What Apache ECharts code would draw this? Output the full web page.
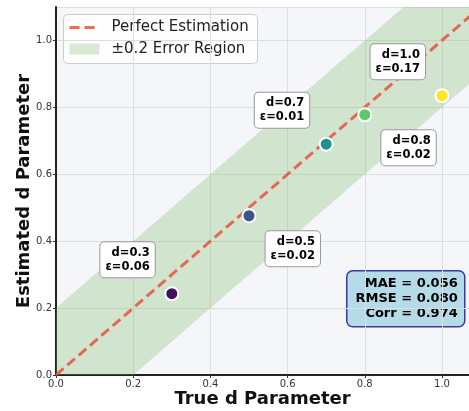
<!DOCTYPE html>
<html><head><meta charset="utf-8">
<script src="https://cdn.jsdelivr.net/npm/echarts@6/dist/echarts.min.js"></script>
<style>html,body{margin:0;padding:0;background:#fff}#c{width:469px;height:411px}</style>
</head><body><div id="c"></div>
<script>
const trueD = [0.3, 0.5, 0.7, 0.8, 1.0];
const estD = [0.243, 0.476, 0.69, 0.778, 0.835];
const errs = ['0.06', '0.02', '0.01', '0.02', '0.17'];
const pointColors = ['#440f5c', '#3b528b', '#21918c', '#5ec962', '#fde725'];
const lineX = [0, 1.2];
const bandHalf = 0.2;
const stats = ['MAE = 0.056', 'RMSE = 0.080', 'Corr = 0.974'];
const legendNames = ['Perfect Estimation', '±0.2 Error Region'];

const FONT = 'DejaVu Sans';
const chart = echarts.init(document.getElementById('c'));
const G = {left: 56, top: 7, right: 0, bottom: 36};

const axisCommon = {
  type: 'value', min: 0, interval: 0.2,
  axisLine: {show: true, lineStyle: {color: '#222', width: 2}},
  axisTick: {show: true, length: 3, lineStyle: {color: '#333'}},
  axisLabel: {fontFamily: FONT, fontSize: 10, color: '#333', margin: 4,
    formatter: v => v.toFixed(1), showMaxLabel: false},
  splitLine: {show: true, lineStyle: {color: '#dedede', width: 1}},
  nameLocation: 'middle', nameMoveOverlap: false,
  nameTextStyle: {fontFamily: FONT, fontSize: 18, fontWeight: 'bold', color: '#111'}
};

const scatterData = trueD.map((x, i) => ({
  value: [x, estD[i]],
  itemStyle: {color: pointColors[i]},
  label: {offset: i % 2 === 0 ? [-17, -34] : [71, 33]}
}));

// band polygon corners derived from the band line and half-width
const bandCorners = [
  [lineX[0], lineX[0] - bandHalf], [lineX[1], lineX[1] - bandHalf],
  [lineX[1], lineX[1] + bandHalf], [lineX[0], lineX[0] + bandHalf]
];

chart.setOption({
  animation: false,
  backgroundColor: '#fff',
  grid: Object.assign({show: true, backgroundColor: '#f5f6fa', borderWidth: 0,
    outerBoundsMode: 'none', containLabel: false}, G),
  xAxis: Object.assign({}, axisCommon, {max: 1.07, name: 'True d Parameter', nameGap: 15}),
  yAxis: Object.assign({}, axisCommon, {max: 1.1, name: 'Estimated d Parameter', nameGap: 23}),
  series: [
    {type: 'custom', silent: true, z: 1,
      data: [0],
      renderItem: (params, api) => {
        const cs = params.coordSys;
        return {type: 'polygon',
          shape: {points: bandCorners.map(p => api.coord(p))},
          style: {fill: 'rgba(113,186,90,0.27)'},
          clipPath: {type: 'rect', shape: {x: cs.x, y: cs.y, width: cs.width, height: cs.height}}};
      }},
    {type: 'line', symbol: 'none', silent: true, z: 3,
      data: lineX.map(x => [x, x]),
      lineStyle: {color: 'rgba(231,76,60,0.82)', width: 3, type: [10, 5]}},
    {type: 'scatter', z: 5, symbolSize: 13,
      itemStyle: {borderColor: '#fff', borderWidth: 2, opacity: 1},
      data: scatterData,
      label: {show: true, position: 'inside',
        formatter: p => 'd=' + trueD[p.dataIndex].toFixed(1) + '\nε=' + errs[p.dataIndex],
        fontFamily: FONT, fontSize: 11.5, fontWeight: 'bold', color: '#000', align: 'right',
        lineHeight: 14, backgroundColor: '#fff', borderColor: '#999', borderWidth: 1,
        borderRadius: 4, padding: [4, 5, 3, 5]}
    }
  ],
  graphic: [
    {type: 'group', left: 63, top: 14, children: [
      {type: 'rect', shape: {x: 0, y: 0, width: 194, height: 49, r: 4},
        style: {fill: 'rgba(255,255,255,0.85)', stroke: '#cccccc', lineWidth: 1}},
      {type: 'line', shape: {x1: 6, y1: 13, x2: 36, y2: 13},
        style: {stroke: 'rgba(231,76,60,0.82)', lineWidth: 3, lineDash: [10, 5]}},
      {type: 'rect', shape: {x: 6, y: 29, width: 30, height: 11},
        style: {fill: 'rgba(113,186,90,0.27)'}},
      {type: 'text', x: 48, y: 13, style: {text: legendNames[0], font: '15px "DejaVu Sans"', fill: '#222', verticalAlign: 'middle'}},
      {type: 'text', x: 48, y: 35, style: {text: legendNames[1], font: '15px "DejaVu Sans"', fill: '#222', verticalAlign: 'middle'}}
    ]},
    {type: 'group', left: 346, top: 270, children: [
      {type: 'rect', shape: {x: 0, y: 0, width: 118, height: 56, r: 6},
        style: {fill: '#b6dbe8', stroke: '#3a3a9e', lineWidth: 1.5}},
      {type: 'text', x: 111, y: 5, style: {text: stats.join('\n'), font: 'bold 13px "DejaVu Sans"',
        fill: '#000', align: 'right', lineHeight: 15}}
    ]}
  ]
});
</script></body></html>
